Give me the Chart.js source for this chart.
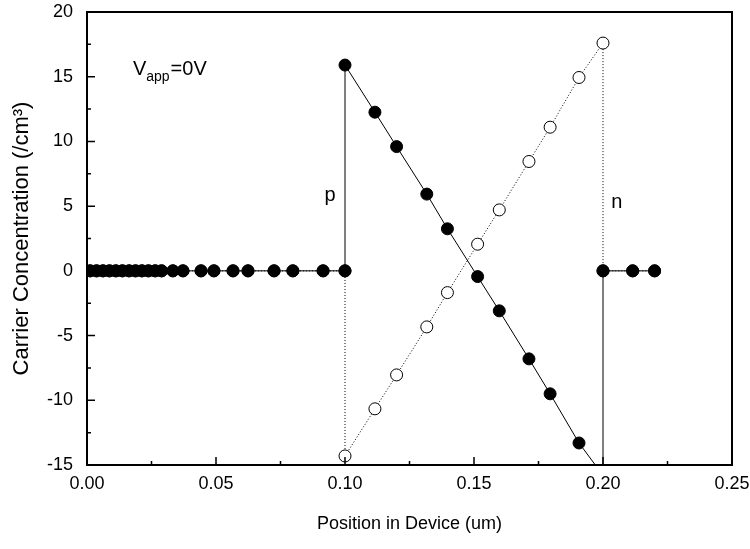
<!DOCTYPE html>
<html>
<head>
<meta charset="utf-8">
<script src="https://cdn.jsdelivr.net/npm/chart.js@4.4.1/dist/chart.umd.min.js"></script>
<style>
  html, body { margin: 0; padding: 0; background: #fff; }
  #wrap { width: 750px; height: 549px; }
</style>
</head>
<body>
<div id="wrap"><canvas id="c" width="750" height="549"></canvas></div>
<script>
// ---- data ----
const leftZeroX = [0.0012, 0.0037, 0.0062, 0.0087, 0.0112, 0.0137, 0.0163, 0.0188, 0.0213, 0.0238,
                   0.0264, 0.0289, 0.0333, 0.0372, 0.0442, 0.0492, 0.0566, 0.0624, 0.0725, 0.0798, 0.0915, 0.1];
const junctionX = [0.1, 0.1116, 0.12, 0.1317, 0.1397, 0.1514, 0.1598, 0.1713, 0.1795, 0.1907, 0.2];
const pValues   = [15.9, 12.26, 9.6, 5.93, 3.25, -0.44, -3.09, -6.8, -9.5, -13.3, -15.8];
const nValues   = [-14.3, -10.66, -8.04, -4.33, -1.68, 2.06, 4.71, 8.45, 11.1, 14.94, 17.6];
const rightZeroX = [0.2, 0.2115, 0.22];

const xTicks = [0, 0.05, 0.10, 0.15, 0.20, 0.25];
const xMinorTicks = [0.025, 0.075, 0.125, 0.175, 0.225];
const yTicks = [-15, -10, -5, 0, 5, 10, 15, 20];
const yMinorTicks = [-12.5, -7.5, -2.5, 2.5, 7.5, 12.5, 17.5];

const xTitle = 'Position in Device (um)';
const yTitle = 'Carrier Concentration (/cm\u00B3)';
const labels = [
  { parts: [['V', 0], ['app', 1], ['=0V', 0]], x: 0.0178, y: 15.15 },
  { parts: [['p', 0]], x: 0.0942, y: 5.36, center: true },
  { parts: [['n', 0]], x: 0.2054, y: 4.87, center: true }
];

function build(values) {
  const pts = [];
  leftZeroX.forEach(x => pts.push({ x: x, y: 0 }));
  junctionX.forEach((x, i) => pts.push({ x: x, y: values[i] }));
  rightZeroX.forEach(x => pts.push({ x: x, y: 0 }));
  return pts;
}

const FONT = "'Liberation Sans', Arial, sans-serif";

const framePlugin = {
  id: 'frame',
  afterDraw(chart) {
    const ctx = chart.ctx;
    const a = chart.chartArea;
    const xs = chart.scales.x, ys = chart.scales.y;
    ctx.save();
    ctx.strokeStyle = '#000';
    ctx.lineWidth = 2;
    ctx.strokeRect(a.left, a.top, a.right - a.left, a.bottom - a.top);
    ctx.lineWidth = 1.5;
    ctx.beginPath();
    xTicks.forEach(v => { const p = xs.getPixelForValue(v); ctx.moveTo(p, a.bottom); ctx.lineTo(p, a.bottom - 8); });
    xMinorTicks.forEach(v => { const p = xs.getPixelForValue(v); ctx.moveTo(p, a.bottom); ctx.lineTo(p, a.bottom - 4); });
    yTicks.forEach(v => { const p = ys.getPixelForValue(v); ctx.moveTo(a.left, p); ctx.lineTo(a.left + 8, p); });
    yMinorTicks.forEach(v => { const p = ys.getPixelForValue(v); ctx.moveTo(a.left, p); ctx.lineTo(a.left + 4, p); });
    ctx.stroke();
    // annotations
    ctx.fillStyle = '#000';
    ctx.textBaseline = 'alphabetic';
    labels.forEach(l => {
      let px = xs.getPixelForValue(l.x);
      const py = ys.getPixelForValue(l.y);
      if (l.center) {
        ctx.font = '20px ' + FONT;
        let w = 0;
        l.parts.forEach(pt => { w += ctx.measureText(pt[0]).width; });
        px -= w / 2;
      }
      l.parts.forEach(pt => {
        const sub = pt[1] === 1;
        ctx.font = (sub ? '14px ' : '20px ') + FONT;
        ctx.fillText(pt[0], px, py + (sub ? 6 : 0));
        px += ctx.measureText(pt[0]).width + (sub ? 1 : 0);
      });
    });
    ctx.restore();
  }
};

new Chart(document.getElementById('c'), {
  type: 'scatter',
  data: {
    datasets: [
      {
        label: 'p',
        data: build(pValues),
        showLine: true,
        borderColor: '#000',
        borderWidth: 1,
        backgroundColor: '#000',
        pointBackgroundColor: '#000',
        pointBorderColor: '#000',
        pointBorderWidth: 1,
        pointRadius: 6,
        pointHoverRadius: 6,
        order: 1
      },
      {
        label: 'n',
        data: build(nValues),
        showLine: true,
        borderColor: '#000',
        borderWidth: 1,
        borderDash: [1, 2],
        backgroundColor: '#fff',
        pointBackgroundColor: '#fff',
        pointBorderColor: '#000',
        pointBorderWidth: 1,
        pointRadius: 6,
        pointHoverRadius: 6,
        order: 2
      }
    ]
  },
  options: {
    responsive: false,
    animation: false,
    events: [],
    layout: { padding: { left: 0, top: 12, right: 18, bottom: 0 } },
    plugins: { legend: { display: false }, tooltip: { enabled: false } },
    scales: {
      x: {
        type: 'linear',
        min: 0, max: 0.25,
        afterBuildTicks: s => { s.ticks = xTicks.map(v => ({ value: v })); },
        afterFit: s => { s.height = 84; s.paddingLeft = 0; s.paddingRight = 0; },
        grid: { display: false },
        border: { display: false },
        ticks: {
          color: '#000',
          font: { family: FONT, size: 18 },
          padding: 0,
          maxRotation: 0,
          autoSkip: false,
          callback: v => v.toFixed(2)
        },
        title: {
          display: true,
          text: xTitle,
          color: '#000',
          font: { family: FONT, size: 18 },
          padding: { top: 0, bottom: 14 }
        }
      },
      y: {
        type: 'linear',
        min: -15, max: 20,
        afterBuildTicks: s => { s.ticks = yTicks.map(v => ({ value: v })); },
        afterFit: s => { s.width = 87; s.paddingTop = 0; s.paddingBottom = 0; },
        grid: { display: false },
        border: { display: false },
        ticks: {
          color: '#000',
          font: { family: FONT, size: 18 },
          padding: 6,
          autoSkip: false,
          callback: v => String(v)
        },
        title: {
          display: true,
          text: yTitle,
          color: '#000',
          font: { family: FONT, size: 22 },
          padding: { top: 9, bottom: 0 }
        }
      }
    }
  },
  plugins: [framePlugin]
});
</script>
</body>
</html>
